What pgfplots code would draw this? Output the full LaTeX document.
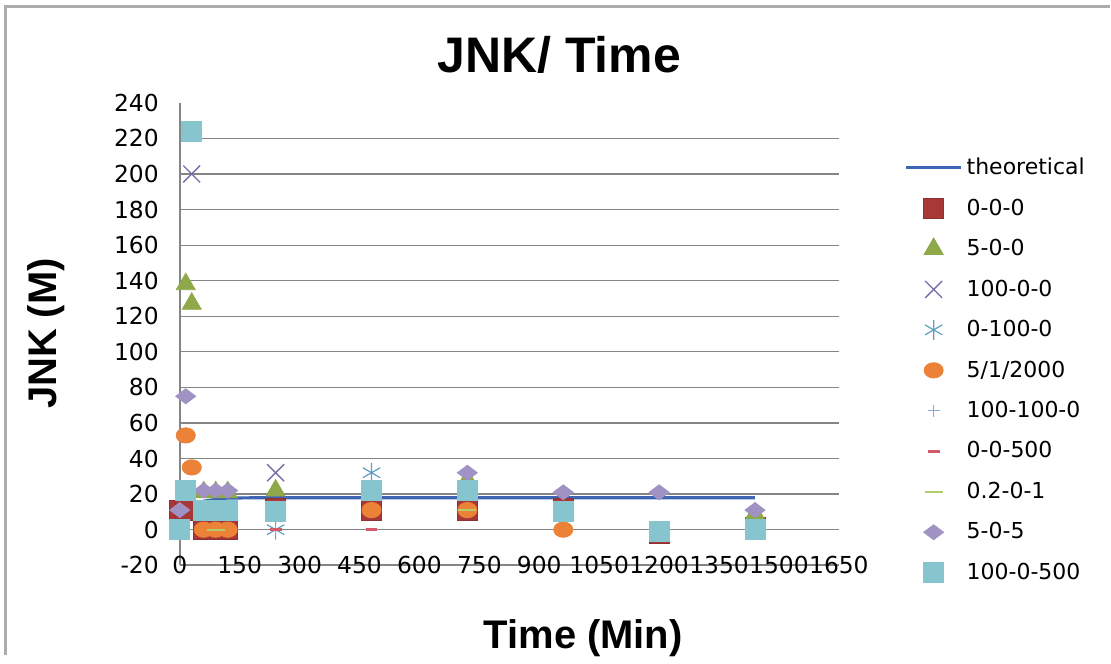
\documentclass[border=0pt]{standalone}
\usepackage{pgfplots}
\pgfplotsset{compat=1.18}
\usepackage{fontspec}
\setmainfont{DejaVu Sans}
\newfontfamily\arialfont{Liberation Sans}
\usetikzlibrary{plotmarks}
\definecolor{cTheo}{HTML}{3E64B4}
\definecolor{cRed}{HTML}{A83838}
\definecolor{cGreen}{HTML}{8FA84A}
\definecolor{cPurp}{HTML}{7B6BA8}
\definecolor{cStar}{HTML}{5E9FC2}
\definecolor{cOrange}{HTML}{EB8238}
\definecolor{cPlus}{HTML}{8EA6D2}
\definecolor{cDashA}{HTML}{D45A6A}
\definecolor{cDashB}{HTML}{B5CC6A}
\definecolor{cDiam}{HTML}{A093C4}
\definecolor{cTeal}{HTML}{86C5CE}
\definecolor{cGrid}{HTML}{858585}
\begin{document}
\begin{tikzpicture}[x=1pt,y=1pt]
\path (0,0) rectangle (555.5,328);
\draw[gray!65, line width=1.5pt] (3,0) -- (3,324.5) -- (555.5,324.5);
\node[font=\arialfont\bfseries\fontsize{25}{28}\selectfont] at (280,300.5) {JNK/ Time};
\node[font=\arialfont\bfseries\fontsize{20}{24}\selectfont] at (292,8.5) {Time (Min)};
\node[font=\arialfont\bfseries\fontsize{20}{24}\selectfont, rotate=90] at (23,161) {JNK (M)};
\begin{axis}[
  at={(90pt,45pt)}, anchor=south west,
  scale only axis, width=330pt, height=231.5pt,
  xmin=0, xmax=1650, ymin=-20, ymax=240,
  xtick={0,150,300,450,600,750,900,1050,1200,1350,1500,1650},
  xticklabels={0,150,300,450,600,750,900,1050,1200,1350,1500,1650},
  ytick={-20,0,20,40,60,80,100,120,140,160,180,200,220},
  yticklabels={-20,0,20,40,60,80,100,120,140,160,180,200,220},
  extra y ticks={240}, extra y tick labels={240},
  extra y tick style={grid=none},
  ymajorgrids, grid style={cGrid, line width=0.6pt},
  axis x line*=bottom, axis y line*=left,
  axis line style={cGrid, line width=0.8pt},
  major tick length=0pt,
  tick label style={font=\fontsize{11.7}{14}\selectfont, text=black},
  xticklabel style={anchor=center, inner sep=0pt},
  yticklabel style={anchor=east, xshift=-7pt},
  clip=false,
  legend style={at={(1.09,0.899)}, anchor=north west, draw=none, fill=none,
    font=\fontsize{11}{13}\selectfont, row sep=6.6pt, cells={anchor=west}},
  legend image code/.code={\draw[mark repeat=2,mark phase=2,#1] plot coordinates {(0pt,0pt)(13.75pt,0pt)(27.5pt,0pt)};},
]
\addplot[cTheo, line width=1.6pt, no marks] coordinates {
(0,8)(15,12)(30,14)(60,16)(90,17)(120,17.8)(240,18)(480,18)(720,18)(960,18)(1200,18)(1440,18)};
\addlegendentry{theoretical}
\addplot[only marks, mark=square*, mark size=5pt, mark options={draw=cRed!85!black, fill=cRed}] coordinates {
(0,11)(15,11)(60,0)(90,0)(120,0)(240,12)(480,11)(720,11)(960,12)(1200,-2)(1440,1)};
\addlegendentry{0-0-0}
\addplot[only marks, mark=triangle*, mark size=5.5pt, mark options={draw=cGreen, fill=cGreen}] coordinates {
(15,138)(30,127)(60,21)(90,21)(120,21)(240,22)(720,28)(1440,9)};
\addlegendentry{5-0-0}
\addplot[only marks, mark=x, mark size=6pt, mark options={draw=cPurp, line width=0.7pt}] coordinates {
(30,200)(240,32)};
\addlegendentry{100-0-0}
\addplot[only marks, mark=asterisk, mark size=5pt, mark options={draw=cStar, line width=0.6pt}] coordinates {
(240,0)(480,32)};
\addlegendentry{0-100-0}
\addplot[only marks, mark=*, mark size=4.8pt, mark options={draw=cOrange, fill=cOrange, yscale=0.8}] coordinates {
(15,53)(30,35)(60,0)(90,0)(120,0)(480,11)(720,11)(960,0)};
\addlegendentry{5/1/2000}
\addplot[only marks, mark=+, mark size=3pt, mark options={draw=cPlus, line width=0.6pt}] coordinates {
(240,0)};
\addlegendentry{100-100-0}
\addplot[only marks, mark=-, mark size=3pt, mark options={draw=cDashA, line width=1.4pt}] coordinates {
(240,0)(480,0)};
\addlegendentry{0-0-500}
\addplot[only marks, mark=-, mark size=4.5pt, mark options={draw=cDashB, line width=1pt}] coordinates {
(90,0)(720,11)};
\addlegendentry{0.2-0-1}
\addplot[only marks, mark=diamond*, mark size=5pt, mark options={draw=cDiam, fill=cDiam, rotate=90}] coordinates {
(0,11)(15,75)(60,22)(90,22)(120,22)(720,32)(960,21)(1200,21)(1440,11)};
\addlegendentry{5-0-5}
\addplot[only marks, mark=square*, mark size=5pt, mark options={draw=cTeal, fill=cTeal}] coordinates {
(0,0)(15,22)(30,224)(60,11)(90,11)(120,11)(240,10)(480,22)(720,22)(960,10)(1200,-1)(1440,0)};
\addlegendentry{100-0-500}
\end{axis}
\end{tikzpicture}
\end{document}
